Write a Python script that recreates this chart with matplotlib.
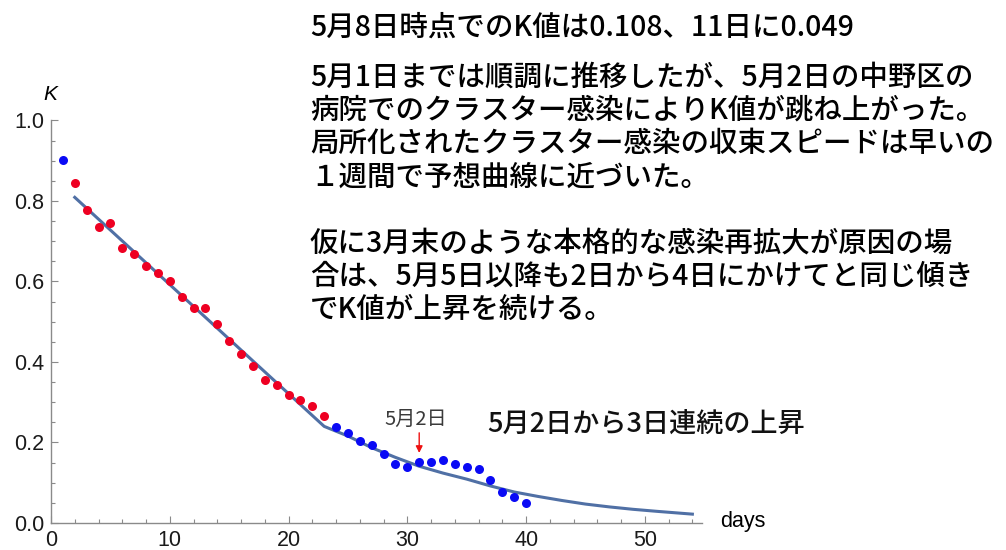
import matplotlib
matplotlib.use("Agg")
import matplotlib.pyplot as plt
from matplotlib.ticker import MultipleLocator

plt.rcParams["font.family"] = ["Noto Sans CJK JP", "DejaVu Sans"]

# observed K values (day 1 = 4/2 ... day 40 = 5/11)
red_days = list(range(2, 24))
red_k = [0.845, 0.778, 0.736, 0.746, 0.684, 0.668, 0.638, 0.622, 0.600, 0.561,
         0.534, 0.534, 0.494, 0.451, 0.421, 0.389, 0.354, 0.343, 0.317, 0.306,
         0.291, 0.267]
blue_days = [1] + list(range(24, 41))
blue_k = [0.901, 0.239, 0.224, 0.203, 0.193, 0.171, 0.146, 0.140, 0.152, 0.152,
          0.157, 0.146, 0.140, 0.135, 0.108, 0.078, 0.064, 0.049]

# predicted curve
fit_days = [2, 23, 25, 27, 29, 31, 33, 35, 37, 39, 41, 43, 45, 47, 49, 51, 54]
fit_k = [0.809, 0.240, 0.216, 0.187, 0.163, 0.141, 0.124, 0.109, 0.092, 0.077,
         0.066, 0.056, 0.047, 0.040, 0.034, 0.029, 0.022]

note_top = "5月8日時点でのK値は0.108、11日に0.049"
note_mid = ["5月1日までは順調に推移したが、5月2日の中野区の",
            "病院でのクラスター感染によりK値が跳ね上がった。",
            "局所化されたクラスター感染の収束スピードは早いの",
            "１週間で予想曲線に近づいた。"]
note_low = ["仮に3月末のような本格的な感染再拡大が原因の場",
            "合は、5月5日以降も2日から4日にかけてと同じ傾き",
            "でK値が上昇を続ける。"]

fig = plt.figure(figsize=(10.06, 5.5), dpi=100)
ax = fig.add_axes([0.0507, 0.0491, 0.647, 0.7319])

ax.plot(fit_days, fit_k, color="#5070a5", lw=2.2, zorder=2)
ax.plot(red_days, red_k, "o", color="#ee0022", ms=6.5, mec="none", zorder=3)
ax.plot(blue_days, blue_k, "o", color="#0a0af5", ms=6.5, mec="none", zorder=3)

ax.set_xlim(0, 54.8)
ax.set_ylim(0, 1.0)
ax.xaxis.set_major_locator(MultipleLocator(10))
ax.xaxis.set_minor_locator(MultipleLocator(2))
ax.yaxis.set_major_locator(MultipleLocator(0.2))
ax.yaxis.set_minor_locator(MultipleLocator(0.05))
ax.yaxis.set_major_formatter(lambda v, p: f"{v:.1f}")
for s in ("top", "right"):
    ax.spines[s].set_visible(False)
for s in ("left", "bottom"):
    ax.spines[s].set_color("#8a8a8a")
    ax.spines[s].set_linewidth(1.0)
ax.tick_params(which="both", direction="in", color="#8a8a8a", width=0.8,
               labelsize=15.5, labelcolor="#1a1a1a", pad=5)
ax.tick_params(which="major", length=5)
ax.tick_params(which="minor", length=3)
for lab in ax.get_xticklabels() + ax.get_yticklabels():
    lab.set_family("Liberation Sans")

fig.text(50 / 1006, 1 - 95 / 550, "K", fontsize=15, style="italic",
         family="Liberation Sans", ha="center", va="center")
fig.text(720 / 1006, 1 - 522 / 550, "days", fontsize=15.5,
         family="Liberation Sans", ha="left", va="center")

# 5/2 marker
ax.annotate("", xy=(31, 0.174), xytext=(31, 0.224),
            arrowprops=dict(arrowstyle="-|>", color="#ee1111", lw=1.0,
                            mutation_scale=10, shrinkA=0, shrinkB=0))
ax.text(30.7, 0.257, "5月2日", fontsize=14.5, color="#3a3a3a",
        ha="center", va="center")
fig.text(487 / 1006, 1 - 424 / 550, "5月2日から3日連続の上昇", fontsize=19.5,
         color="#111111", weight="medium", ha="left", va="center")

# commentary block
fs = 20.5
x0 = 310 / 1006
fig.text(x0, 1 - 27 / 550, note_top, fontsize=fs, weight="medium",
         ha="left", va="center")
for i, line in enumerate(note_mid):
    fig.text(x0, 1 - (77 + 33.3 * i) / 550, line, fontsize=fs,
             weight="medium", ha="left", va="center")
for i, line in enumerate(note_low):
    fig.text(x0, 1 - (243 + 33.3 * i) / 550, line, fontsize=fs,
             weight="medium", ha="left", va="center")

fig.savefig("out.png", dpi=100, facecolor="white")
